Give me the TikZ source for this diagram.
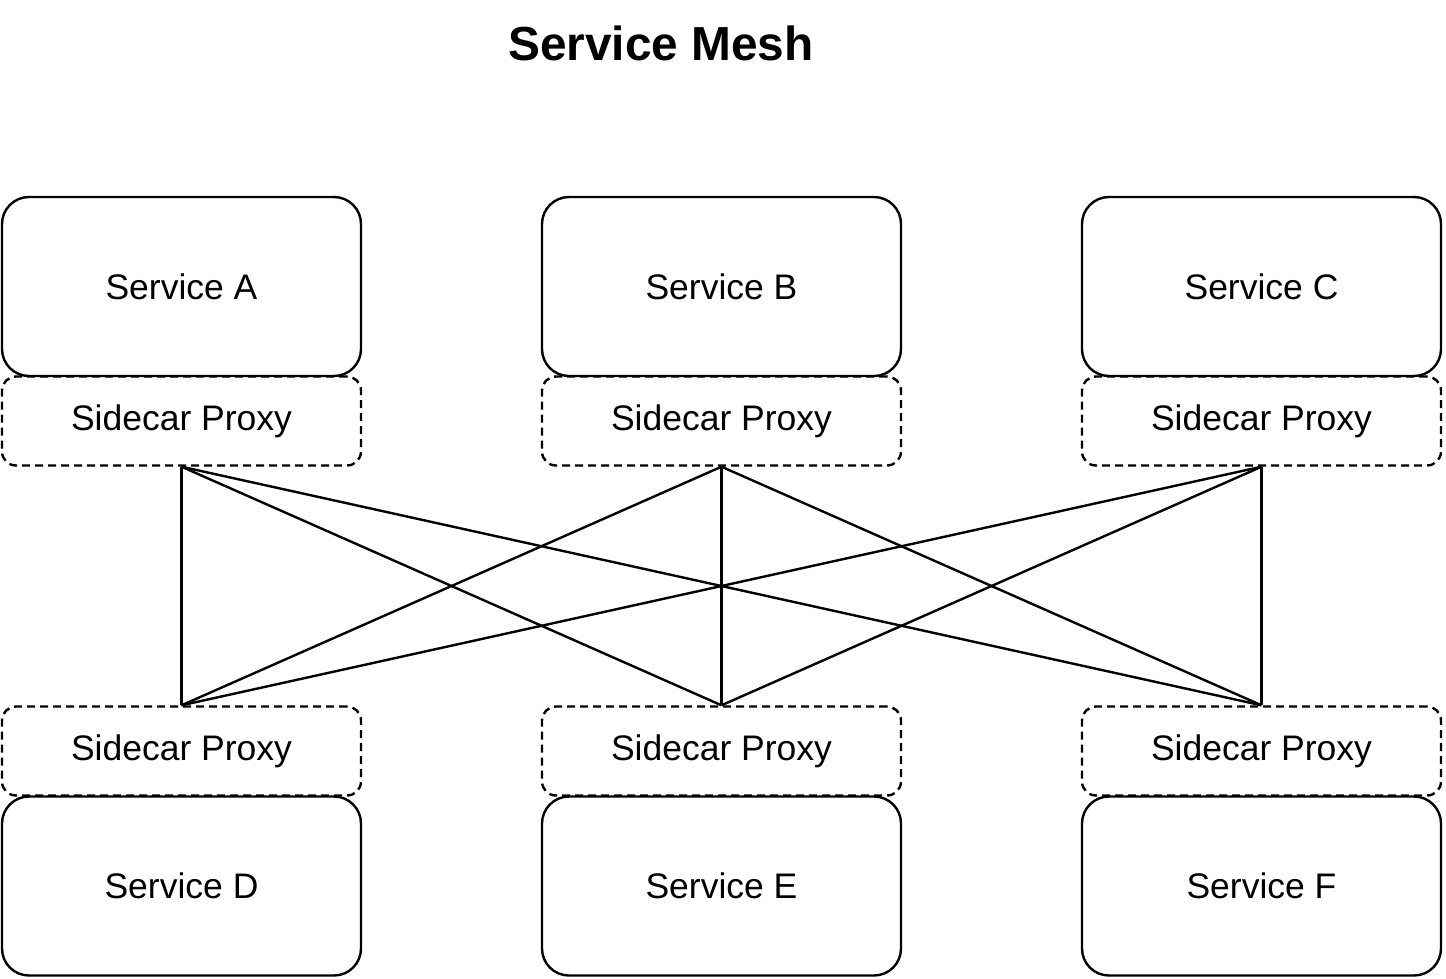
\documentclass[tikz,border=0pt]{standalone}
\usepackage{fontspec}
\setmainfont{Liberation Sans}
\begin{document}
\begin{tikzpicture}[x=1pt,y=-1pt,
  svc/.style={draw=black, line width=2.4pt, rounded corners=27pt, minimum width=359pt, minimum height=179pt, inner sep=0pt, fill=white, font=\fontsize{35.5}{40}\selectfont},
  proxy/.style={draw=black, line width=2.4pt, dash pattern=on 8pt off 5pt, rounded corners=14pt, minimum width=359pt, minimum height=89pt, inner sep=0pt, font=\fontsize{35.5}{40}\selectfont},
  mesh/.style={line width=2.4pt, black}]
\useasboundingbox (0,0) rectangle (1446,978);
\node[font=\bfseries\fontsize{47.8}{54}\selectfont] (title) at (661,43) {Service Mesh};
\node[svc] (A) at (181.5,286.5) {Service A};
\node[svc] (B) at (721.5,286.5) {Service B};
\node[svc] (C) at (1261.5,286.5) {Service C};
\node[proxy] (pA) at (181.5,421) {Sidecar Proxy};
\node[proxy] (pB) at (721.5,421) {Sidecar Proxy};
\node[proxy] (pC) at (1261.5,421) {Sidecar Proxy};
\node[proxy] (pD) at (181.5,751) {Sidecar Proxy};
\node[proxy] (pE) at (721.5,751) {Sidecar Proxy};
\node[proxy] (pF) at (1261.5,751) {Sidecar Proxy};
\node[svc] (D) at (181.5,886) {Service D};
\node[svc] (E) at (721.5,886) {Service E};
\node[svc] (F) at (1261.5,886) {Service F};
\foreach \s in {pA,pB,pC}{
  \foreach \t in {pD,pE,pF}{
    \draw[mesh] (\s.south) -- (\t.north);
  }
}
\end{tikzpicture}
\end{document}
